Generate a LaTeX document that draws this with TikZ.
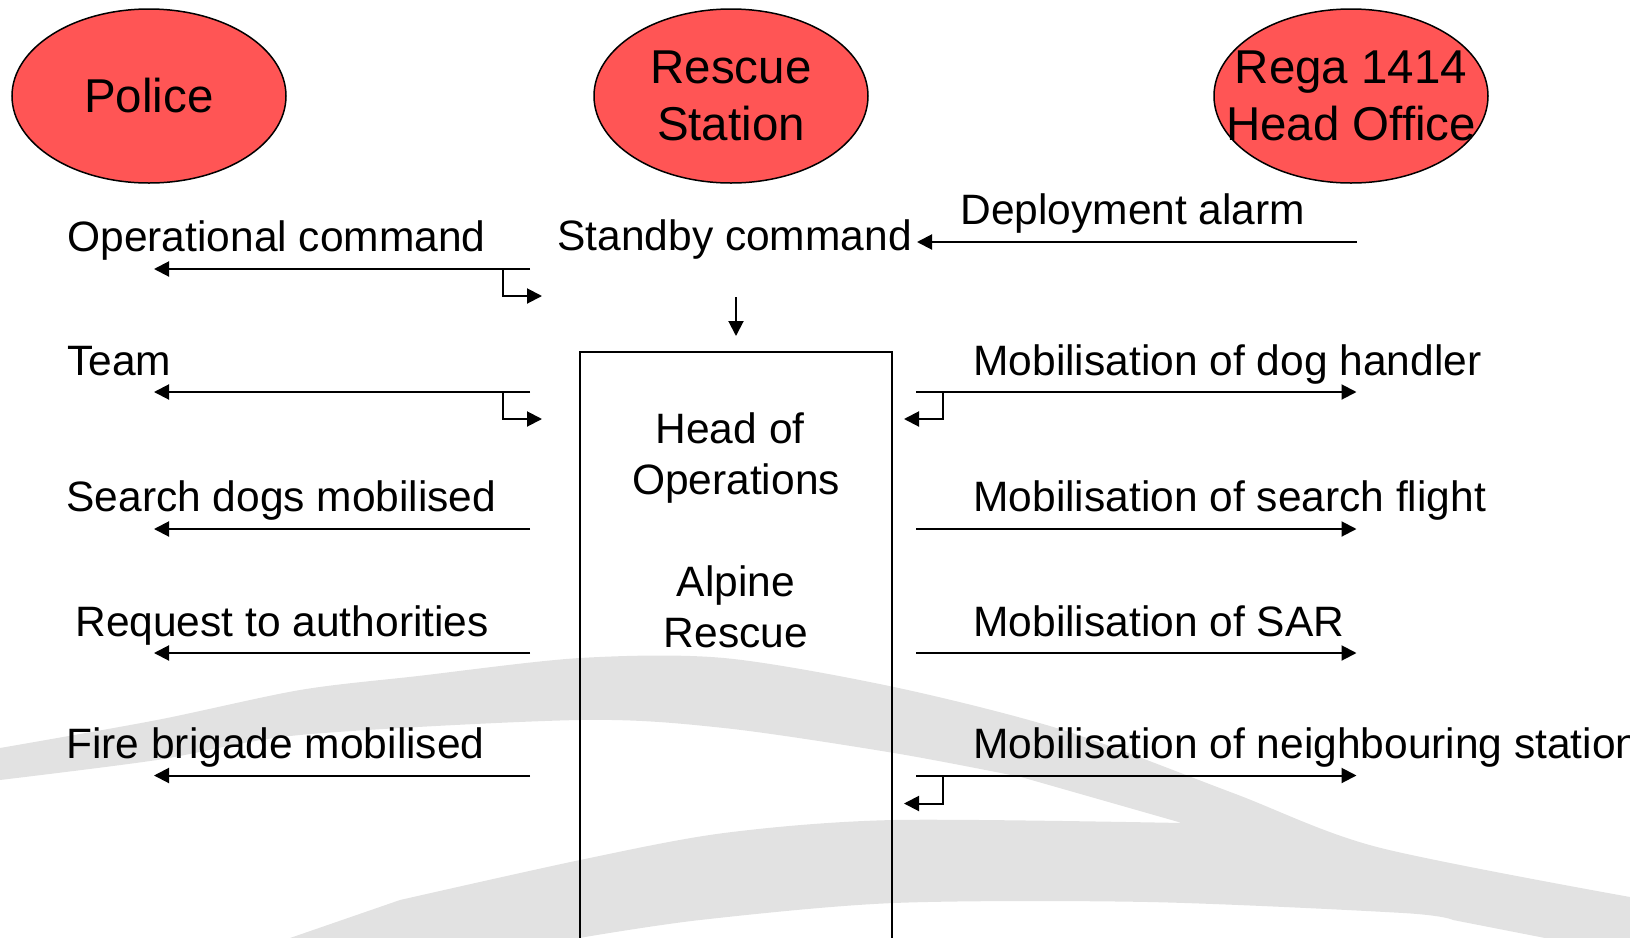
\documentclass[tikz,border=0pt]{standalone}
\usepackage{fontspec}
\setmainfont{Liberation Sans}
\usetikzlibrary{arrows.meta,shapes.geometric}

\definecolor{unitred}{RGB}{255,85,85}
\definecolor{swooshgray}{RGB}{226,226,226}

\tikzset{
  unit/.style={ellipse, draw=black, line width=0.75pt, fill=unitred,
    minimum width=137pt, minimum height=87pt, inner sep=0pt},
  unitname/.style={align=center, inner sep=0pt,
    font=\fontsize{23.75}{28.5}\selectfont},
  msg/.style={anchor=base west, inner sep=0pt,
    font=\fontsize{21.25}{25.5}\selectfont},
  flow/.style={line width=1pt, -{Triangle[length=7.5pt,width=7.5pt]}},
}

\begin{document}
\begin{tikzpicture}[x=0.5pt, y=-0.5pt]
    \useasboundingbox (0,0) rectangle (1630,938);
    \clip (0,0) rectangle (1630,938);

    % logo swoosh in the background
    \fill[swooshgray] plot[smooth] coordinates {(0,748) (157,720) (300,690) (418,676) (580,658) (724,658) (894,687) (1063,730) (1233,793) (1377,847) (1630,897)}
        -- (1630,938) -- (1545,938)
        -- plot[smooth] coordinates {(1453,920) (1403,913) (1148,902) (894,903) (700,920) (579,938)}
        -- (290,938)
        -- plot[smooth] coordinates {(400,900) (580,860) (724,833) (894,820) (1182,823)}
        -- plot[smooth] coordinates {(1021,777) (894,753) (724,728) (580,720) (300,735) (157,760) (0,780)}
        -- cycle;

    % the three units
    \node[unit] (police) at (149,96) {};
    \node[unitname] (police-name) at (police.center) {Police};
    \node[unit] (station) at (731,96) {};
    \node[unitname] (station-name) at (station.center) {Rescue\\Station};
    \node[unit] (rega) at (1351,96) {};
    \node[unitname] (rega-name) at (rega.center) {Rega 1414\\Head Office};

    % head of operations
    \node[draw, line width=0.75pt, minimum width=156pt, minimum height=320pt, anchor=north] (head) at (736,351) {};
    \node[align=center, font=\fontsize{21.25}{25.5}\selectfont] (head-name) at (736,530) {Head of\kern0.278em\\Operations\\[25.5pt]Alpine\\Rescue};

    % messages
    \node[msg] (opcmd) at (67,251) {Operational command};
    \node[msg] (team) at (67,375) {Team};
    \node[msg] (dogs) at (66,511) {Search dogs mobilised};
    \node[msg] (request) at (75,636) {Request to authorities};
    \node[msg] (fire) at (66,758) {Fire brigade mobilised};
    \node[msg] (standby) at (557,250) {Standby command};
    \node[msg] (alarm) at (960,224) {Deployment alarm};
    \node[msg] (doghandler) at (973,375) {Mobilisation of dog handler};
    \node[msg] (flight) at (973,511) {Mobilisation of search flight};
    \node[msg] (sar) at (973,636) {Mobilisation of SAR};
    \node[msg] (neighbour) at (973,758) {Mobilisation of neighbouring station};

    % arrow ends
    \coordinate (opcmd-a) at (530,269);   \coordinate (opcmd-b) at (154,269);
    \coordinate (opcmd-k) at (503,269);   \coordinate (opcmd-c) at (542,296);
    \coordinate (team-a) at (530,392);    \coordinate (team-b) at (154,392);
    \coordinate (team-k) at (503,392);    \coordinate (team-c) at (542,419);
    \coordinate (dogs-a) at (530,529);    \coordinate (dogs-b) at (154,529);
    \coordinate (request-a) at (530,653); \coordinate (request-b) at (154,653);
    \coordinate (fire-a) at (530,775.5);  \coordinate (fire-b) at (154,775.5);
    \coordinate (alarm-a) at (1356.5,242); \coordinate (alarm-b) at (917,242);
    \coordinate (standby-a) at (736,297); \coordinate (standby-b) at (736,336);
    \coordinate (doghandler-a) at (916,392);  \coordinate (doghandler-b) at (1356.5,392);
    \coordinate (doghandler-k) at (943,392);  \coordinate (doghandler-c) at (904,419);
    \coordinate (flight-a) at (916,529);  \coordinate (flight-b) at (1356.5,529);
    \coordinate (sar-a) at (916,653);     \coordinate (sar-b) at (1356.5,653);
    \coordinate (neighbour-a) at (916,775.5); \coordinate (neighbour-b) at (1356.5,775.5);
    \coordinate (neighbour-k) at (943,775.5); \coordinate (neighbour-c) at (904,803.5);

    \draw[flow] (opcmd-a) -- (opcmd-b);
    \draw[flow] (opcmd-k) |- (opcmd-c);
    \draw[flow] (team-a) -- (team-b);
    \draw[flow] (team-k) |- (team-c);
    \draw[flow] (dogs-a) -- (dogs-b);
    \draw[flow] (request-a) -- (request-b);
    \draw[flow] (fire-a) -- (fire-b);
    \draw[flow] (alarm-a) -- (alarm-b);
    \draw[flow] (standby-a) -- (standby-b);
    \draw[flow] (doghandler-a) -- (doghandler-b);
    \draw[flow] (doghandler-k) |- (doghandler-c);
    \draw[flow] (flight-a) -- (flight-b);
    \draw[flow] (sar-a) -- (sar-b);
    \draw[flow] (neighbour-a) -- (neighbour-b);
    \draw[flow] (neighbour-k) |- (neighbour-c);
\end{tikzpicture}
\end{document}
